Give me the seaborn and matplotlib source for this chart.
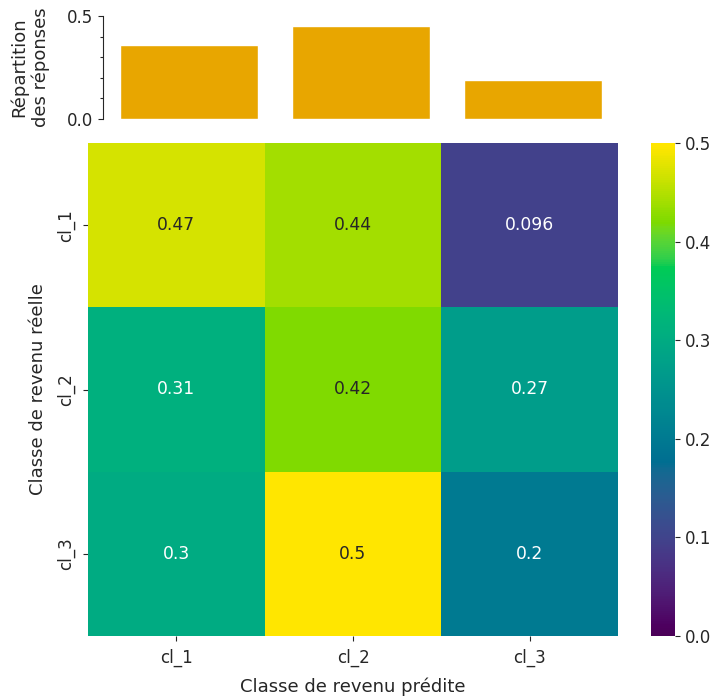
import numpy as np
import pandas as pd
import seaborn as sns
import matplotlib
matplotlib.use("Agg")
import matplotlib.pyplot as plt
from matplotlib.colors import ListedColormap
from matplotlib.ticker import MultipleLocator

sns.set_style("ticks")
plt.rcParams['font.family'] = ['DejaVu Sans']

classes = ["cl_1", "cl_2", "cl_3"]
row_cl1 = [0.47, 0.44, 0.096]
row_cl2 = [0.31, 0.42, 0.27]
row_cl3 = [0.30, 0.50, 0.20]
repartition = [0.36, 0.453, 0.189]

matrix = pd.DataFrame([row_cl1, row_cl2, row_cl3], index=classes, columns=classes)
bars = pd.DataFrame({"classe": classes, "rep": repartition})


# viridis, rendered with the more vivid look of the reference (wide-gamut display)
def _to_lin(c):
    return np.where(c <= 0.04045, c / 12.92, ((c + 0.055) / 1.055) ** 2.4)


def _to_srgb(c):
    c = np.clip(c, 0, 1)
    return np.where(c <= 0.0031308, c * 12.92, 1.055 * c ** (1 / 2.4) - 0.055)


_M = np.array([[1.2249, -0.2247, 0.0],
               [-0.0420, 1.0419, 0.0],
               [-0.0197, -0.0786, 1.0979]])
_base = plt.get_cmap("viridis")(np.linspace(0, 1, 256))[:, :3]
_vivid = _to_srgb(_to_lin(_base) @ _M.T)
cmap = ListedColormap(_vivid, name="viridis_vivid")

fig = plt.figure(figsize=(7.2, 6.97), dpi=100)
ax_heat = fig.add_axes([88/720, 61/697, 530/720, 493/697])
ax_cbar = fig.add_axes([651/720, 61/697, 24/720, 493/697])
ax_bar = fig.add_axes([103/720, 578/697, 516/720, 103/697])

sns.heatmap(matrix, ax=ax_heat, cbar_ax=ax_cbar, cmap=cmap, vmin=0, vmax=0.5,
            annot=True, annot_kws={"fontsize": 12.3})
ax_heat.set_xlabel("Classe de revenu prédite", fontsize=13, labelpad=7.5)
ax_heat.set_ylabel("Classe de revenu réelle", fontsize=13, labelpad=7.5)
ax_heat.tick_params(labelsize=12, pad=5.5)
ax_cbar.tick_params(labelsize=12)
ax_cbar.set_yticks([0.0, 0.1, 0.2, 0.3, 0.4, 0.5])

sns.barplot(data=bars, x="classe", y="rep", ax=ax_bar, color="#E8A600", width=0.8,
            saturation=1)
ax_bar.set_xlim(-0.5, 2.5)
ax_bar.set_ylim(0, 0.5)
ax_bar.set_yticks([0.0, 0.5])
ax_bar.yaxis.set_minor_locator(MultipleLocator(0.1))
ax_bar.tick_params(axis="y", which="minor", length=2.5, width=0.8)
ax_bar.set_xticks([])
ax_bar.set_xlabel("")
ax_bar.set_ylabel("Répartition\ndes réponses", fontsize=13, labelpad=12.5)
sns.despine(ax=ax_bar, bottom=True)
ax_bar.tick_params(axis="y", which="major", labelsize=12)

fig.savefig("out.png", dpi=100)
